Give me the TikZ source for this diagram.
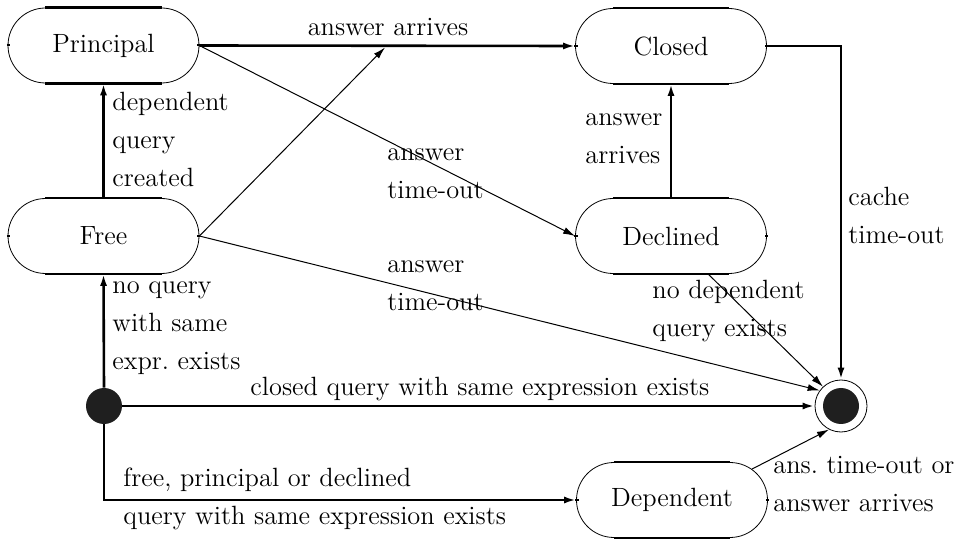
\documentclass[tikz,border=0pt]{standalone}
\usetikzlibrary{arrows.meta}
\begin{document}
\begin{tikzpicture}[x=0.5pt,y=-0.5pt,
  font=\fontsize{13.2}{19}\selectfont,
  state/.style={draw, line width=0.4pt, rounded corners=18.75pt, minimum width=95.5pt, minimum height=37.5pt, inner sep=0pt},
  thinarr/.style={line width=0.5pt, -{Latex[length=6pt,width=3.5pt]}},
  thickarr/.style={line width=1.3pt, -{Latex[length=6pt,width=3.5pt]}},
  lbl/.style={align=left, inner sep=0pt, anchor=base west}]
\useasboundingbox (0,0) rectangle (966,540);

% states
\node[state] (P) at (103.5,45.5) {Principal};
\node[state] (C) at (671,46) {Closed};
\node[state] (F) at (103.5,236) {Free};
\node[state] (D) at (671,236) {Declined};
\node[state] (Dep) at (672,500) {Dependent};
\foreach \n in {P,C,F,D,Dep}{
  \draw[line width=1.3pt] ([xshift=18.75pt]\n.north west) -- ([xshift=-18.75pt]\n.north east);
  \draw[line width=1.3pt] ([xshift=18.75pt]\n.south west) -- ([xshift=-18.75pt]\n.south east);
  \draw[line width=1pt] ([xshift=-0.4pt]\n.west) -- ([xshift=1.2pt]\n.west);
  \draw[line width=1pt] ([xshift=0.4pt]\n.east) -- ([xshift=-1.2pt]\n.east);
}

% pseudo states
\node[circle, fill=black!88, minimum size=18pt, inner sep=0pt] (I) at (104,406) {};
\node[circle, draw, line width=0.4pt, minimum size=26pt, inner sep=0pt] (Fin) at (841,406) {};
\node[circle, fill=black!88, minimum size=18pt, inner sep=0pt] (FinIn) at (841,406) {};

\coordinate (hit) at (385,47.5);
\coordinate (corner) at (841,46);

% transitions
\draw[thickarr] (P.east) -- (C.west);
\draw[thinarr] (P.east) -- (D.west);
\draw[thinarr] (F.east) -- (hit);
\draw[thinarr] (F.east) -- (Fin.144.5);
\draw[thickarr] (F.north) -- (P.south);
\draw[thickarr] (I.north) -- (F.south);
\draw[thickarr] (I.east) -- (Fin.west);
\draw[thickarr] (I.south) |- (Dep.west);
\draw[thickarr] (D.north) -- (C.north |- C.south);
\draw[thickarr] (C.east) -- (corner) -- (Fin.north);
\draw[thinarr] ([xshift=18.5pt]D.south) -- (Fin.133.5);
\draw[thinarr] ([shift={(-7.9pt,15.5pt)}]Dep.east) -- (Fin.243);

% labels (base = baseline of last line)
\node[inner sep=0pt, anchor=base] (l1) at (388,36) {answer arrives};
\node[lbl] (l2) at (387,199) {answer\\time-out};
\node[lbl] (l3) at (387,311) {answer\\time-out};
\node[lbl] (l4) at (112,187) {dependent\\query\\created};
\node[lbl] (l5) at (112,370) {no query\\with same\\expr.\ exists};
\node[lbl] (l6) at (585,164) {answer\\arrives};
\node[lbl] (l7) at (848,244) {cache\\time-out};
\node[lbl] (l8) at (250,396) {closed query with same expression exists};
\node[lbl] (l9) at (123,524) {free, principal or declined\\query with same expression exists};
\node[lbl] (l10) at (652,336) {no dependent\\query exists};
\node[lbl] (l11) at (773,511) {ans.\ time-out or\\answer arrives};
\end{tikzpicture}
\end{document}
